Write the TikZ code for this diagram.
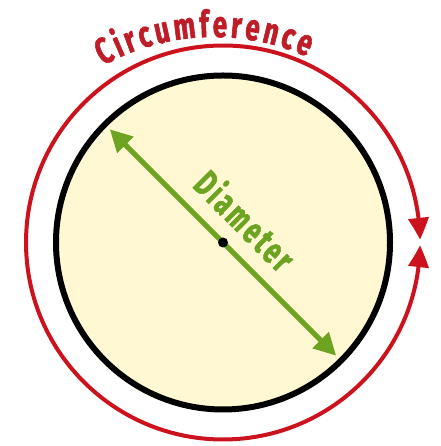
\documentclass[tikz,border=0pt]{standalone}
\usepackage{fontspec}
\newfontfamily\labfont[LetterSpace=8,FakeStretch=0.66,BoldFeatures={FakeStretch=0.66,LetterSpace=8,FakeBold=1.5}]{Fira Sans}
\newfontfamily\arcfont[FakeStretch=0.7,BoldFeatures={FakeStretch=0.7,FakeBold=1.5}]{Fira Sans}
\usetikzlibrary{arrows.meta,bending,decorations.text}
\definecolor{circred}{RGB}{204,18,28}
\definecolor{txtred}{RGB}{190,28,38}
\definecolor{diagreen}{RGB}{108,163,32}
\definecolor{fillyel}{RGB}{255,248,210}
\tikzset{
  diskstyle/.style={circle, draw=black, line width=6pt, fill=fillyel, minimum size=334pt, inner sep=0pt, outer sep=0pt},
  dotstyle/.style={circle, fill=black, minimum size=10pt, inner sep=0pt},
  greenline/.style={draw=diagreen, line width=5pt, {Triangle[length=22pt,width=22pt]}-{Triangle[length=22pt,width=22pt]}, shorten <=7pt, shorten >=7pt},
  redline/.style={draw=circred, line width=4pt, {Triangle[length=22pt,width=20pt,bend]}-{Triangle[length=22pt,width=20pt,bend]}},
  dialabel/.style={rotate=-45, inner sep=0pt, text=diagreen, font=\labfont\bfseries\fontsize{37}{40}\selectfont}
}
\begin{document}
\begin{tikzpicture}[x=1pt,y=1pt]
\useasboundingbox (0,0) rectangle (440,446);
\coordinate (c) at (223,203.5);
\coordinate (tc) at (214,180);
\node[diskstyle] (disk) at (c) {};
\coordinate (rs) at ([shift={(0.8:197)}]c);
\draw[redline] (rs) arc[start angle=0.8, end angle=359.2, radius=197];
\draw[greenline] (disk.135) -- (disk.-45);
\node[dotstyle] (dot) at (c) {};
\node[dialabel] (dlab) at ([shift={(45:32)}]c) {Diameter};
\coordinate (ts) at ([shift={(119:229)}]tc);
\path[decorate, decoration={text along path, text align=fit to path,
  text={|\arcfont\bfseries\fontsize{37}{40}\selectfont\color{txtred}|Circumference}}]
  (ts) arc[start angle=119, end angle=66, radius=229];
\end{tikzpicture}
\end{document}
